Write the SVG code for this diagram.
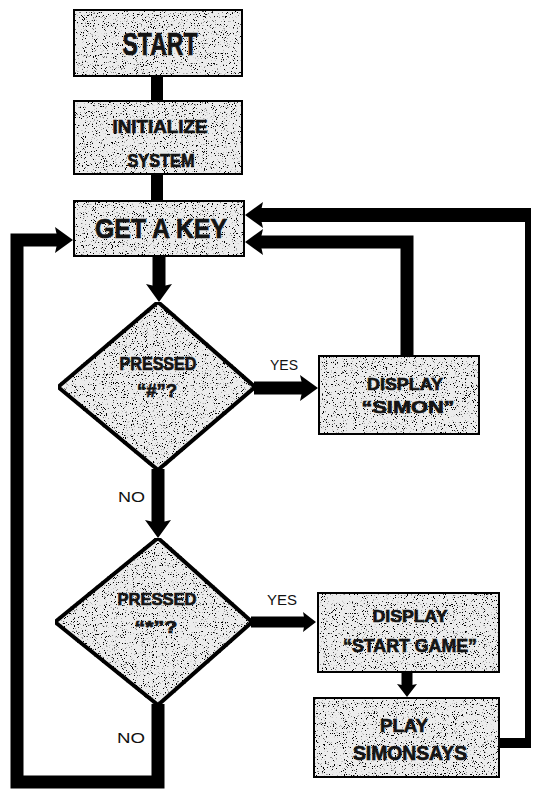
<svg xmlns="http://www.w3.org/2000/svg" width="535" height="791" viewBox="0 0 535 791">
<style>
  .node { fill: #ececec; stroke: #000; stroke-width: 4; stroke-linejoin: miter; filter: url(#grain); }
  .lbl { font-family: "Liberation Sans", Arial, sans-serif; font-weight: bold; fill: #141414; stroke: #141414; stroke-width: 0.7; text-anchor: middle; }
  .tag { font-family: "Liberation Sans", Arial, sans-serif; font-size: 15px; fill: #111; }
  .wire { fill: none; stroke: #000; stroke-linejoin: miter; stroke-linecap: butt; }
</style>
<defs>
  <filter id="grain" x="0" y="0" width="100%" height="100%" filterUnits="objectBoundingBox">
    <feTurbulence type="fractalNoise" baseFrequency="0.9" numOctaves="2" seed="7" result="n"/>
    <feColorMatrix in="n" type="matrix" values="0 0 0 0 0  0 0 0 0 0  0 0 0 0 0  14 0 0 0 -8.6" result="dots"/>
    <feComposite in="dots" in2="SourceAlpha" operator="in" result="cdots"/>
    <feMerge>
      <feMergeNode in="SourceGraphic"/>
      <feMergeNode in="cdots"/>
    </feMerge>
  </filter>
  <marker id="ah" markerUnits="userSpaceOnUse" markerWidth="20" markerHeight="26" refX="3" refY="13" orient="auto">
    <path d="M0,0 L18,13 L0,26 L3,13 Z" fill="#000"/>
  </marker>
  <marker id="ahs" markerUnits="userSpaceOnUse" markerWidth="16" markerHeight="20" refX="2" refY="10" orient="auto">
    <path d="M0,0 L13,10 L0,20 L2,10 Z" fill="#000"/>
  </marker>
</defs>

<g id="connectors">
  <line class="wire" x1="157" y1="76" x2="157" y2="101" stroke-width="12"/>
  <line class="wire" x1="157" y1="174" x2="157" y2="201" stroke-width="12"/>
  <line class="wire" x1="159" y1="256" x2="159" y2="287" stroke-width="13" marker-end="url(#ah)"/>
  <line class="wire" x1="158" y1="469" x2="158" y2="523" stroke-width="13" marker-end="url(#ah)"/>
  <line class="wire" x1="254" y1="388" x2="303" y2="388" stroke-width="13" marker-end="url(#ah)"/>
  <line class="wire" x1="251" y1="622" x2="305" y2="622" stroke-width="11" marker-end="url(#ahs)"/>
  <line class="wire" x1="407" y1="672" x2="407" y2="686" stroke-width="11" marker-end="url(#ahs)"/>
  <path class="wire" d="M407,356 V242 H260" stroke-width="13" marker-end="url(#ah)"/>
  <line class="wire" x1="499" y1="743" x2="531" y2="743" stroke-width="10"/>
  <line class="wire" x1="528" y1="748" x2="528" y2="208" stroke-width="6"/>
  <line class="wire" x1="531" y1="215" x2="260" y2="215" stroke-width="14" marker-end="url(#ah)"/>
  <path class="wire" d="M158,704 V782 H17 V240 H58" stroke-width="13" marker-end="url(#ah)"/>
</g>

<g id="start">
  <rect class="node" x="73" y="9" width="170" height="68"/>
  <text class="lbl" x="160" y="55" font-size="31" textLength="75" lengthAdjust="spacingAndGlyphs">START</text>
</g>
<g id="init">
  <rect class="node" x="73" y="100" width="170" height="75"/>
  <text class="lbl" x="160" y="133" font-size="18" textLength="95" lengthAdjust="spacingAndGlyphs">INITIALIZE</text>
  <text class="lbl" x="161" y="167" font-size="18" textLength="67" lengthAdjust="spacingAndGlyphs">SYSTEM</text>
</g>
<g id="getkey">
  <rect class="node" x="73" y="200" width="172" height="57"/>
  <text class="lbl" x="161" y="238" font-size="28" textLength="132" lengthAdjust="spacingAndGlyphs">GET A KEY</text>
</g>
<g id="decision1">
  <polygon class="node" points="158,302 255,387 158,470 58,387"/>
  <text class="lbl" x="158" y="370" font-size="18" textLength="77" lengthAdjust="spacingAndGlyphs">PRESSED</text>
  <text class="lbl" x="157" y="397" font-size="18" textLength="40" lengthAdjust="spacingAndGlyphs">“#”?</text>
</g>
<g id="decision2">
  <polygon class="node" points="158,538 252,622 158,705 55,622"/>
  <text class="lbl" x="157" y="605" font-size="17" textLength="79" lengthAdjust="spacingAndGlyphs">PRESSED</text>
  <text class="lbl" x="156" y="633" font-size="17" textLength="43" lengthAdjust="spacingAndGlyphs">“*”?</text>
</g>
<g id="display-simon">
  <rect class="node" x="318" y="355" width="162" height="80"/>
  <text class="lbl" x="405" y="390" font-size="17" textLength="76" lengthAdjust="spacingAndGlyphs">DISPLAY</text>
  <text class="lbl" x="408" y="413" font-size="17" textLength="93" lengthAdjust="spacingAndGlyphs">“SIMON”</text>
</g>
<g id="display-start-game">
  <rect class="node" x="317" y="592" width="183" height="81"/>
  <text class="lbl" x="410" y="622" font-size="17" textLength="75" lengthAdjust="spacingAndGlyphs">DISPLAY</text>
  <text class="lbl" x="410" y="652" font-size="19" textLength="134" lengthAdjust="spacingAndGlyphs">“START GAME”</text>
</g>
<g id="play">
  <rect class="node" x="313" y="697" width="187" height="81"/>
  <text class="lbl" x="404" y="732" font-size="18" textLength="48" lengthAdjust="spacingAndGlyphs">PLAY</text>
  <text class="lbl" x="410" y="760" font-size="20" textLength="114" lengthAdjust="spacingAndGlyphs">SIMONSAYS</text>
</g>
<g id="labels">
  <text class="tag" x="270" y="370" textLength="28" lengthAdjust="spacingAndGlyphs">YES</text>
  <text class="tag" x="267" y="605" textLength="30" lengthAdjust="spacingAndGlyphs">YES</text>
  <text class="tag" x="118" y="502" textLength="27" lengthAdjust="spacingAndGlyphs">NO</text>
  <text class="tag" x="117" y="743" textLength="28" lengthAdjust="spacingAndGlyphs">NO</text>
</g>
</svg>
